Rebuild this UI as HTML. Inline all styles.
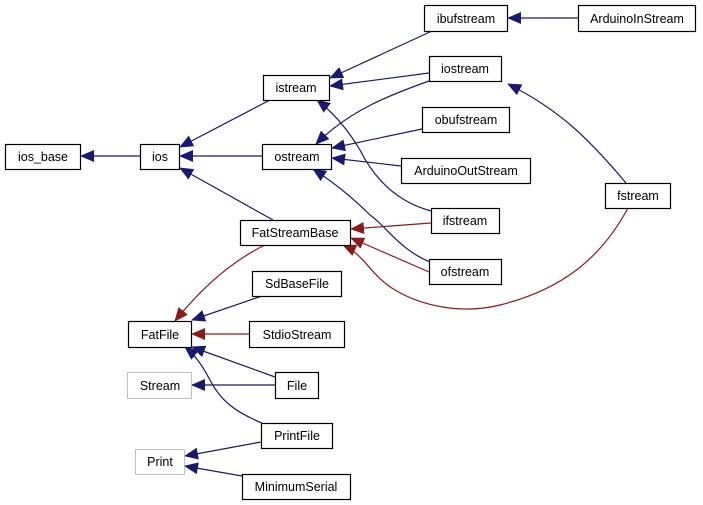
<!DOCTYPE html>
<html><head><meta charset="utf-8"><style>
html,body{margin:0;padding:0;background:#fff}
svg{display:block}
text{font-family:"Liberation Sans",Arial,sans-serif;font-size:12.5px;fill:#000}
</style></head><body>
<svg width="703" height="505" viewBox="0 0 703 505" xmlns="http://www.w3.org/2000/svg">
<defs>
<marker id="b" markerWidth="14" markerHeight="12" refX="13" refY="6" orient="auto" markerUnits="userSpaceOnUse"><path d="M0,0 L14,6 L0,12 z" fill="#191970"/></marker>
<marker id="r" markerWidth="14" markerHeight="12" refX="13" refY="6" orient="auto" markerUnits="userSpaceOnUse"><path d="M0,0 L14,6 L0,12 z" fill="#8b1a1a"/></marker>
</defs>
<g fill="none" stroke="#191970" stroke-width="1.2" marker-end="url(#b)">
<path d="M140,156 L81,156"/>
<path d="M270,100 L180,147"/>
<path d="M262,156 L180,156"/>
<path d="M273,220 L180,168"/>
<path d="M432,31 L330,78"/>
<path d="M429,73 L330,86"/>
<path d="M431,211 C390,200 370,170 360,150 C345,125 330,110 317,100"/>
<path d="M429,81 C390,95 350,110 316,144"/>
<path d="M422,129 L332,148"/>
<path d="M401,166 L332,158"/>
<path d="M430,262 C400,250 385,225 370,215 C350,195 330,180 313,169"/>
<path d="M578,18 L508,18"/>
<path d="M626,183 C590,140 560,110 508,84"/>
<path d="M262,296 L192,320"/>
<path d="M275,377 L192,347"/>
<path d="M275,385 L192,385"/>
<path d="M262,423 C235,412 220,400 210,380 C202,365 195,355 185,347"/>
<path d="M261,442 L185,456"/>
<path d="M242,476 L185,466"/>
</g>
<g fill="none" stroke="#8b1a1a" stroke-width="1.2" marker-end="url(#r)">
<path d="M431,223 L351,229"/>
<path d="M429,272 L351,238"/>
<path d="M628,208 C600,260 560,290 500,305 C460,315 420,305 395,290 C370,275 365,255 343,245"/>
<path d="M265,245 C230,262 200,290 175,321"/>
<path d="M249,334 L192,334"/>
</g>
<g stroke="#000" stroke-width="1.2" fill="#fff">
<rect x="5.5" y="144.5" width="75" height="25"/>
<rect x="140.5" y="144.5" width="39" height="25"/>
<rect x="263.5" y="75.5" width="66" height="25"/>
<rect x="262.5" y="144.5" width="69" height="25"/>
<rect x="240.5" y="220.5" width="110" height="25"/>
<rect x="424.5" y="5.5" width="83" height="26"/>
<rect x="578.5" y="5.5" width="117" height="26"/>
<rect x="429.5" y="56.5" width="72" height="25"/>
<rect x="422.5" y="107.5" width="87" height="25"/>
<rect x="401.5" y="158.5" width="129" height="25"/>
<rect x="431.5" y="208.5" width="68" height="25"/>
<rect x="429.5" y="259.5" width="72" height="25"/>
<rect x="605.5" y="183.5" width="65" height="25"/>
<rect x="252.5" y="271.5" width="89" height="25"/>
<rect x="128.5" y="321.5" width="63" height="26"/>
<rect x="249.5" y="321.5" width="95" height="26"/>
<rect x="275.5" y="372.5" width="43" height="26"/>
<rect x="261.5" y="423.5" width="71" height="25"/>
<rect x="242.5" y="474.5" width="108" height="25"/>
</g>
<g stroke="#bfbfbf" stroke-width="1" fill="#fff">
<rect x="127.5" y="372.5" width="64" height="26"/>
<rect x="135.5" y="449.5" width="49" height="25"/>
</g>
<g text-anchor="middle">
<text x="43" y="161">ios_base</text>
<text x="160" y="161">ios</text>
<text x="296" y="92">istream</text>
<text x="297" y="161">ostream</text>
<text x="295" y="237">FatStreamBase</text>
<text x="466" y="23">ibufstream</text>
<text x="637" y="23">ArduinoInStream</text>
<text x="465" y="73">iostream</text>
<text x="466" y="124">obufstream</text>
<text x="466" y="175">ArduinoOutStream</text>
<text x="465" y="225">ifstream</text>
<text x="465" y="276">ofstream</text>
<text x="638" y="200">fstream</text>
<text x="297" y="288">SdBaseFile</text>
<text x="160" y="339">FatFile</text>
<text x="297" y="339">StdioStream</text>
<text x="160" y="390">Stream</text>
<text x="297" y="390">File</text>
<text x="297" y="440">PrintFile</text>
<text x="160" y="466">Print</text>
<text x="296" y="491">MinimumSerial</text>
</g>
</svg>
</body></html>
